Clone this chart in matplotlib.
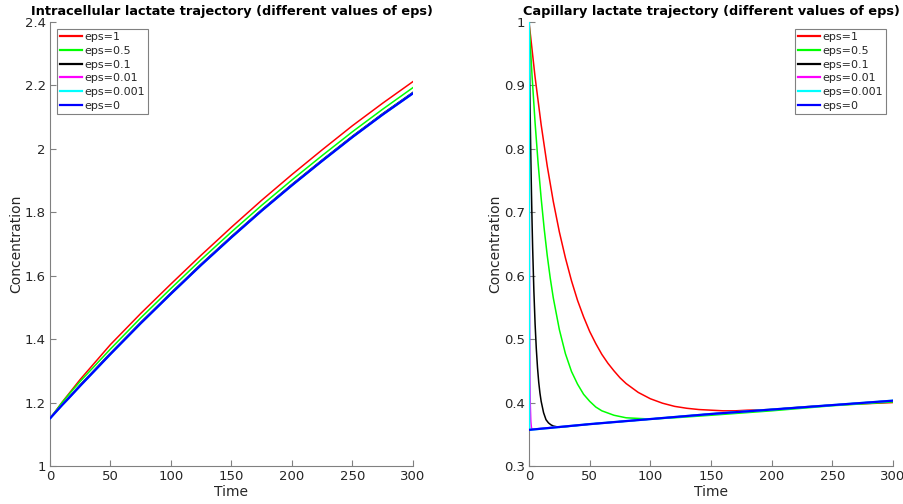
import matplotlib
matplotlib.use('Agg')
from matplotlib import pyplot as plt
from matplotlib.ticker import FuncFormatter

# legend labels / colours (eps=1 first, eps=0 drawn last on top)
labels = ['eps=1', 'eps=0.5', 'eps=0.1', 'eps=0.01', 'eps=0.001', 'eps=0']
colors = ['#ff0000', '#00ff00', '#000000', '#ff00ff', '#00ffff', '#0000ff']
widths = [1.1, 1.1, 1.1, 1.1, 1.6, 1.6]

# intracellular lactate
t_in = [0, 5, 10, 15, 25, 50, 75, 100, 125, 150, 175, 200, 225, 250, 275, 300]
in_eps1 = [1.150, 1.175, 1.201, 1.225, 1.273, 1.383, 1.481, 1.574, 1.665, 1.753, 1.838, 1.919, 1.997, 2.073, 2.144, 2.212]
in_eps05 = [1.150, 1.175, 1.200, 1.223, 1.267, 1.369, 1.467, 1.560, 1.651, 1.738, 1.822, 1.902, 1.979, 2.054, 2.125, 2.193]
in_eps01 = [1.150, 1.172, 1.193, 1.214, 1.256, 1.356, 1.453, 1.546, 1.637, 1.724, 1.808, 1.888, 1.965, 2.040, 2.111, 2.178]
in_eps001 = [1.150, 1.171, 1.192, 1.212, 1.253, 1.353, 1.450, 1.543, 1.634, 1.721, 1.805, 1.885, 1.962, 2.037, 2.108, 2.175]
in_eps0001 = [1.150, 1.171, 1.192, 1.212, 1.253, 1.353, 1.450, 1.543, 1.634, 1.721, 1.805, 1.885, 1.962, 2.037, 2.108, 2.175]
in_eps0 = [1.150, 1.171, 1.192, 1.212, 1.253, 1.353, 1.450, 1.543, 1.634, 1.721, 1.805, 1.885, 1.962, 2.037, 2.108, 2.175]

# capillary lactate (each run has its own time steps)
t_c1 = [0, 5, 10, 15, 20, 25, 30, 35, 40, 45, 50, 55, 60, 65, 70, 75, 80, 85, 90,
        100, 110, 120, 130, 140, 150, 160, 170, 180, 200, 225, 250, 275, 300]
c_eps1 = [1.0, 0.913, 0.838, 0.773, 0.717, 0.669, 0.628, 0.592, 0.561, 0.535, 0.512, 0.493, 0.476, 0.462, 0.450, 0.439, 0.430, 0.423, 0.416,
          0.406, 0.399, 0.394, 0.391, 0.389, 0.388, 0.387, 0.387, 0.388, 0.389, 0.393, 0.396, 0.398, 0.400]
t_c05 = [0, 2.5, 5, 7.5, 10, 12.5, 15, 17.5, 20, 25, 30, 35, 40, 45, 50, 55, 60, 70, 80, 90, 100, 120, 150, 200, 250, 300]
c_eps05 = [1.0, 0.915, 0.841, 0.777, 0.722, 0.674, 0.632, 0.596, 0.565, 0.515, 0.477, 0.449, 0.429, 0.413, 0.402, 0.393, 0.387,
           0.380, 0.376, 0.375, 0.374, 0.376, 0.380, 0.387, 0.395, 0.401]
t_c01 = [0, 0.5, 1, 1.5, 2, 2.5, 3, 4, 5, 6, 7, 8, 9, 10, 12, 14, 16, 18, 20, 25, 30, 50, 100, 150, 200, 250, 300]
c_eps01 = [1.0, 0.919, 0.848, 0.786, 0.732, 0.685, 0.643, 0.576, 0.524, 0.485, 0.455, 0.432, 0.415, 0.402, 0.384, 0.373, 0.368,
           0.365, 0.363, 0.361, 0.362, 0.366, 0.374, 0.382, 0.389, 0.396, 0.403]
t_c001 = [0, 0.25, 0.5, 0.75, 1, 1.5, 2, 3, 50, 100, 150, 200, 250, 300]
c_eps001 = [1.0, 0.680, 0.520, 0.440, 0.400, 0.370, 0.360, 0.358, 0.366, 0.374, 0.382, 0.389, 0.396, 0.403]
t_c0001 = [0, 0.025, 0.05, 0.1, 0.2, 0.5, 50, 100, 150, 200, 250, 300]
c_eps0001 = [1.0, 0.750, 0.600, 0.430, 0.360, 0.357, 0.366, 0.374, 0.382, 0.389, 0.396, 0.403]
t_c0 = [0, 50, 100, 150, 200, 250, 300]
c_eps0 = [0.357, 0.366, 0.374, 0.382, 0.389, 0.396, 0.403]

left_series = [in_eps1, in_eps05, in_eps01, in_eps001, in_eps0001, in_eps0]
right_series = [(t_c1, c_eps1), (t_c05, c_eps05), (t_c01, c_eps01),
                (t_c001, c_eps001), (t_c0001, c_eps0001), (t_c0, c_eps0)]

axcol = '#808080'
txtcol = '#262626'
fmt = FuncFormatter(lambda v, p: '%g' % round(v, 3))

fig = plt.figure(figsize=(9.04, 5.04), dpi=100)
ax1 = fig.add_axes([0.0553, 0.0754, 0.4015, 0.881])
ax2 = fig.add_axes([0.5852, 0.0754, 0.4027, 0.881])

for i, ys in enumerate(left_series):
  ax1.plot(t_in, ys, color=colors[i], lw=widths[i], label=labels[i], zorder=3)
for i, (ts, ys) in enumerate(right_series):
  ax2.plot(ts, ys, color=colors[i], lw=widths[i], label=labels[i], zorder=3)

def style(ax, ylim, yticks, title, legloc):
  ax.set_xlim(0, 300)
  ax.set_ylim(*ylim)
  ax.set_xticks([0, 50, 100, 150, 200, 250, 300])
  ax.set_yticks(yticks)
  ax.yaxis.set_major_formatter(fmt)
  for s in ['top', 'right']:
    ax.spines[s].set_visible(False)
  for s in ['left', 'bottom']:
    ax.spines[s].set_color(axcol)
    ax.spines[s].set_linewidth(0.8)
  ax.tick_params(direction='in', length=4, width=0.8, color=axcol,
                 labelcolor=txtcol, labelsize=9.5, pad=3)
  ax.set_xlabel('Time', fontsize=10, color=txtcol, labelpad=1)
  ax.set_ylabel('Concentration', fontsize=10, color=txtcol, labelpad=1)
  ax.set_title(title, fontsize=9.3, fontweight='bold', pad=5)
  leg = ax.legend(loc=legloc, fontsize=8, frameon=True, fancybox=False,
                  edgecolor=axcol, framealpha=1, labelspacing=0.34,
                  handlelength=2.0, handletextpad=0.2, borderpad=0.3,
                  borderaxespad=0.6)
  leg.get_frame().set_linewidth(0.8)
  for t in leg.get_texts():
    t.set_color(txtcol)
  for l in leg.get_lines():
    l.set_linewidth(1.6)

style(ax1, (1, 2.4), [1, 1.2, 1.4, 1.6, 1.8, 2, 2.2, 2.4],
      'Intracellular lactate trajectory (different values of eps)', 'upper left')
style(ax2, (0.3, 1), [0.3, 0.4, 0.5, 0.6, 0.7, 0.8, 0.9, 1],
      'Capillary lactate trajectory (different values of eps)', 'upper right')

fig.savefig('out.png', dpi=100)
